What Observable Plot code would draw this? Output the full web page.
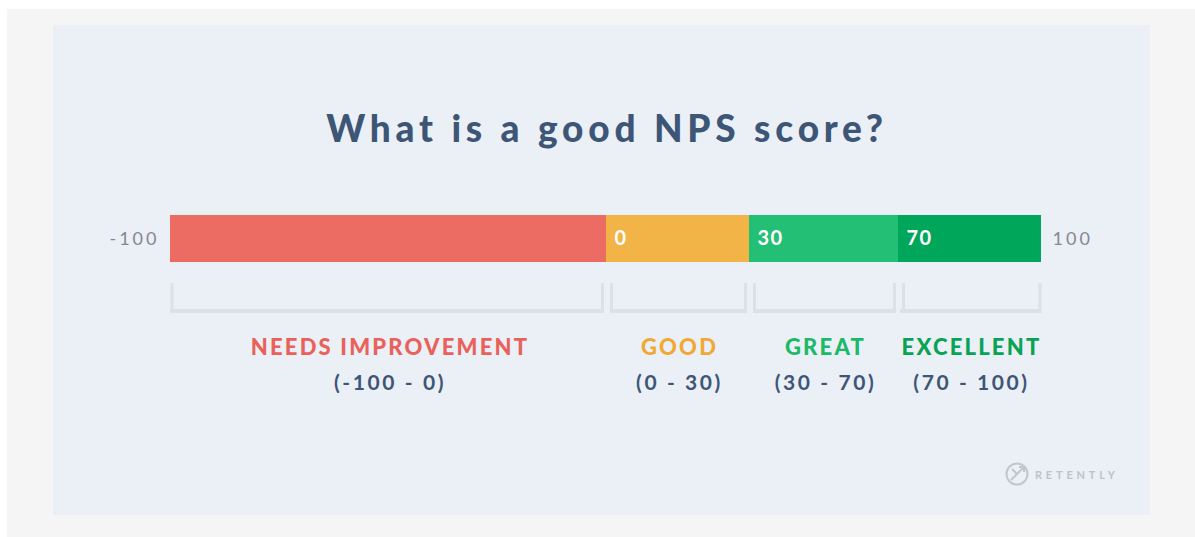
<!DOCTYPE html>
<html>
<head>
<meta charset="utf-8">
<script src="https://cdn.jsdelivr.net/npm/d3@7"></script>
<script src="https://cdn.jsdelivr.net/npm/@observablehq/plot@0.6"></script>
<style>
  html, body { margin: 0; padding: 0; background: #ffffff; width: 1195px; height: 537px; overflow: hidden; }
  #outer { position: absolute; left: 7px; top: 9px; width: 1188px; height: 528px; background: #f5f5f5; }
  #inner { position: absolute; left: 53px; top: 25px; width: 1097px; height: 490px; background: #ebeff6; }
  #title { position: absolute; left: 0; top: 105px; width: 1214px; text-align: center; white-space: nowrap;
           font-family: Lato, "Open Sans", sans-serif; font-weight: 900; font-size: 37px; color: #3d5676; letter-spacing: 4.8px; }
  #chart { position: absolute; left: 0; top: 0; }
  #logo { position: absolute; left: 1005px; top: 460px; display: flex; align-items: center; gap: 4px;
          font-family: Lato, sans-serif; font-size: 11px; font-weight: 700; color: #bfc2c7; letter-spacing: 3.8px; }
</style>
</head>
<body>
<div id="outer"></div>
<div id="inner"></div>
<div id="title">What is a good NPS score?</div>
<div id="chart"></div>
<div id="logo">
  <svg width="26" height="28" viewBox="0 0 26 28"><circle cx="12" cy="14" r="10.5" fill="none" stroke="#c3c6cb" stroke-width="2"/><path d="M6 20 L19 7 M14 7 L19 7 L19 12 M7 9 L12 14" fill="none" stroke="#c3c6cb" stroke-width="2"/></svg>
  <span>RETENTLY</span>
</div>
<script>
// Data
const categories = ["NEEDS IMPROVEMENT", "GOOD", "GREAT", "EXCELLENT"];
const starts = [-100, 0, 30, 70];
const ends = [0, 30, 70, 100];
const rangeLabels = ["(-100 - 0)", "(0 - 30)", "(30 - 70)", "(70 - 100)"];
const startLabels = ["", "0", "30", "70"];
const barColors = ["#ec6b63", "#f2b347", "#23bf74", "#00a659"];
const nameColors = ["#e8615a", "#f1a935", "#1cb969", "#08a354"];
const scaleMin = [-100];
const scaleMax = [100];

const segs = categories.map((c, i) => ({
  cat: c, start: starts[i], end: ends[i], mid: (starts[i] + ends[i]) / 2,
  range: rangeLabels[i], label: startLabels[i], color: barColors[i], ncolor: nameColors[i],
  row: "bar", brow: "bracket"
}));
const first = segs.filter(d => d.start === scaleMin[0]);
const last = segs.filter(d => d.end === scaleMax[0]);
const innerStart = segs.filter(d => d.start !== scaleMin[0]);
const innerEnd = segs.filter(d => d.end !== scaleMax[0]);

const font = "Lato, 'Open Sans', sans-serif";
const bracketColor = "#dde1e7";

const chart = Plot.plot({
  width: 1195,
  height: 420,
  margin: 0,
  style: { background: "transparent", overflow: "visible" },
  x: { type: "linear", domain: [-100, 0, 30, 70, 100], range: [170, 606, 749, 898, 1041], axis: null },
  y: { type: "band", domain: ["bar", "bracket"], range: [215, 330], paddingInner: 0.309, paddingOuter: 0, axis: null },
  marks: [
    // main bar segments
    Plot.barX(segs, { x1: "start", x2: "end", y: "row", fill: "color" }),
    // start labels inside segments
    Plot.text(segs.filter(d => d.label !== ""), {
      x: "start", y: "row", text: "label", dx: 8, textAnchor: "start",
      fill: "#ffffff", fontSize: 20, fontWeight: 700, fontFamily: font
    }),
    // scale ends
    Plot.text(scaleMin, {
      x: d => d, y: () => "bar", text: d => String(d), dx: -11, textAnchor: "end",
      fill: "#858890", fontSize: 18, fontFamily: font
    }),
    Plot.text(scaleMax, {
      x: d => d, y: () => "bar", text: d => String(d), dx: 11, textAnchor: "start",
      fill: "#858890", fontSize: 18, fontFamily: font
    }),
    // brackets: bottom lines
    Plot.barX(first, { x1: "start", x2: "end", y: "brow", fill: bracketColor, insetTop: 26, insetBottom: 17, insetRight: 2 }),
    Plot.barX(segs.filter(d => d.start !== scaleMin[0] && d.end !== scaleMax[0]), { x1: "start", x2: "end", y: "brow", fill: bracketColor, insetTop: 26, insetBottom: 17, insetLeft: 4, insetRight: 3 }),
    Plot.barX(last, { x1: "start", x2: "end", y: "brow", fill: bracketColor, insetTop: 26, insetBottom: 17, insetLeft: 2 }),
    // brackets: left verticals
    Plot.tickX(first, { x: "start", y: "brow", stroke: bracketColor, strokeWidth: 3, insetBottom: 17, dx: 1.5 }),
    Plot.tickX(innerStart, { x: "start", y: "brow", stroke: bracketColor, strokeWidth: 3, insetBottom: 17, dx: 5 }),
    // brackets: right verticals
    Plot.tickX(innerEnd, { x: "end", y: "brow", stroke: bracketColor, strokeWidth: 3, insetBottom: 17, dx: -4 }),
    Plot.tickX(last, { x: "end", y: "brow", stroke: bracketColor, strokeWidth: 3, insetBottom: 17, dx: -1.5 }),
    // category names
    Plot.text(segs, {
      x: "mid", y: "brow", text: "cat", dy: 41, dx: 1.5, fill: "ncolor",
      fontSize: 22, fontWeight: 900, fontFamily: font
    }),
    // ranges
    Plot.text(segs, {
      x: "mid", y: "brow", text: "range", dy: 76, dx: 1.5, fill: "#3e5676",
      fontSize: 21, fontWeight: 700, fontFamily: font
    })
  ]
});
// letter spacing per text layer (in mark order): inside labels, min, max, names, ranges
const spacing = ["1.5px", "3px", "3px", "2.2px", "2.6px"];
d3.select(chart).selectAll("g[aria-label='text']").each(function (_, i) {
  d3.select(this).style("letter-spacing", spacing[i]);
});
document.getElementById("chart").appendChild(chart);
</script>
</body>
</html>
